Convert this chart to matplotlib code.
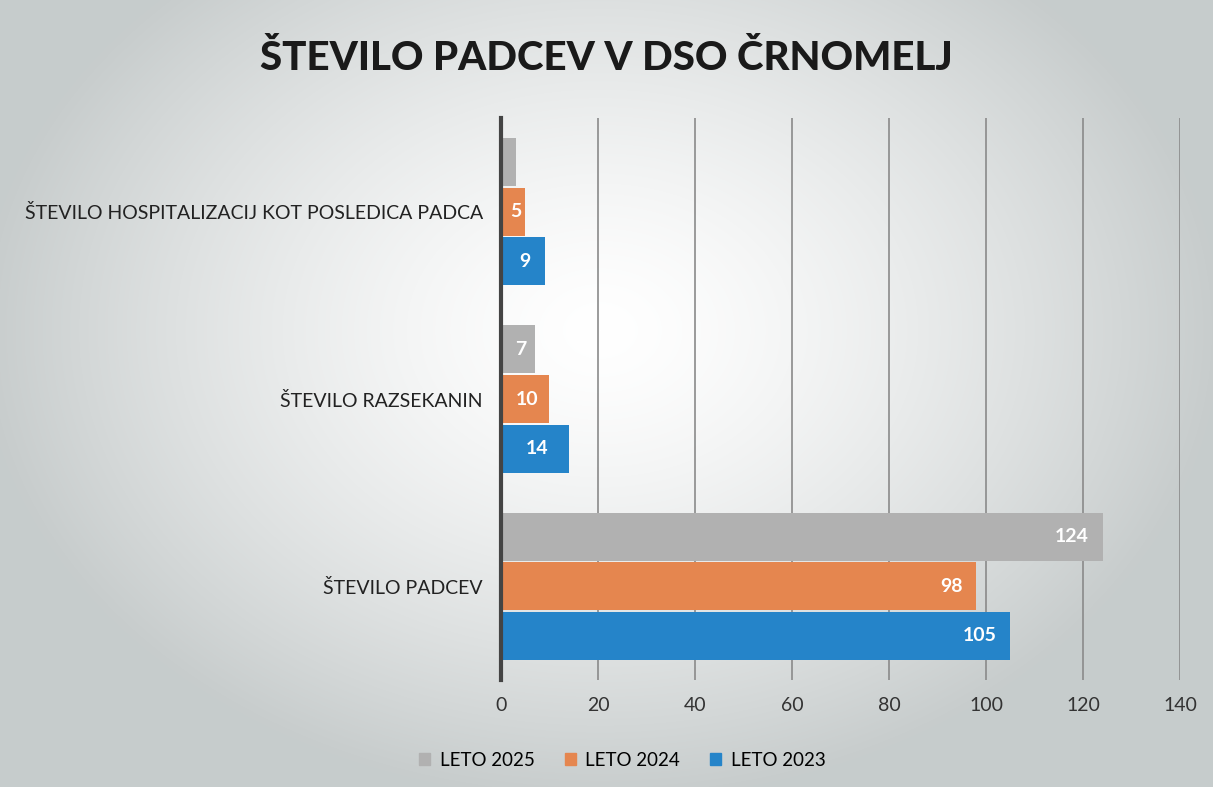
import numpy as np
import matplotlib.pyplot as plt
from matplotlib.patches import Patch

plt.rcParams['font.family'] = ['Lato', 'DejaVu Sans']

categories = ['ŠTEVILO PADCEV', 'ŠTEVILO RAZSEKANIN',
              'ŠTEVILO HOSPITALIZACIJ KOT POSLEDICA PADCA']
leto_2025 = [124, 7, 3]
leto_2024 = [98, 10, 5]
leto_2023 = [105, 14, 9]
series = ['LETO 2025', 'LETO 2024', 'LETO 2023']
colors = ['#b1b1b1', '#e5864f', '#2584c9']

fig = plt.figure(figsize=(12.13, 7.87), dpi=100)

# radial gradient background
bg = fig.add_axes([0, 0, 1, 1], zorder=-10)
yy, xx = np.mgrid[0:787, 0:1213]
r = np.sqrt(((xx - 600) / 620.0) ** 2 + ((yy - 330) / 470.0) ** 2)
shade = np.clip(r, 0, 1) ** 1.4
img = np.ones((787, 1213, 3))
edge = np.array([0.78, 0.80, 0.80])
for c in range(3):
    img[:, :, c] = 1 - shade * (1 - edge[c])
bg.imshow(img, aspect='auto', extent=[0, 1, 0, 1])
bg.axis('off')

ax = fig.add_axes([0.413, 0.136, 0.56, 0.714])
ax.patch.set_alpha(0)

y = np.arange(len(categories))
h = 0.265
vals = [leto_2025, leto_2024, leto_2023]
offs = [h, 0, -h]
for v, off, col, name in zip(vals, offs, colors, series):
    bars = ax.barh(y + off, v, height=h * 0.97, color=col, label=name, zorder=3)
    for b, val in zip(bars, v):
        if val < 4:
            continue
        if val > 50:
            xt, ha = b.get_width() - 2.8, 'right'
        else:
            xt, ha = b.get_width() / 2 + (0.4 if val > 9 else 0.5), 'center'
        ax.text(xt, b.get_y() + b.get_height() / 2, str(val), ha=ha, va='center',
                color='white', fontsize=14, fontweight='bold', zorder=4)

ax.set_xlim(0, 140)
ax.set_ylim(-0.5, 2.5)
ax.set_xticks(np.arange(0, 141, 20))
ax.set_yticks(y)
ax.set_yticklabels(categories, fontsize=14, color='#222222')
ax.tick_params(axis='x', labelsize=14, colors='#333333', length=0, pad=12)
ax.tick_params(axis='y', length=0, pad=13)
ax.grid(axis='x', color='#8a8a8a', linewidth=1.2, zorder=0)
for s in ['top', 'right', 'bottom']:
    ax.spines[s].set_visible(False)
ax.spines['left'].set_color('#444444')
ax.spines['left'].set_linewidth(3)
ax.spines['left'].set_zorder(5)

fig.text(0.5, 0.926, 'ŠTEVILO PADCEV V DSO ČRNOMELJ', ha='center', va='center',
         fontsize=29, fontweight='black', color='#1a1a1a')

handles = [Patch(color=c, label=s) for c, s in zip(colors, series)]
fig.legend(handles=handles, loc='center', bbox_to_anchor=(0.513, 0.034), ncol=3,
           frameon=False, fontsize=13.5, handlelength=0.6, handleheight=0.6,
           columnspacing=1.6, handletextpad=0.5)

fig.savefig('out.png', dpi=100)
